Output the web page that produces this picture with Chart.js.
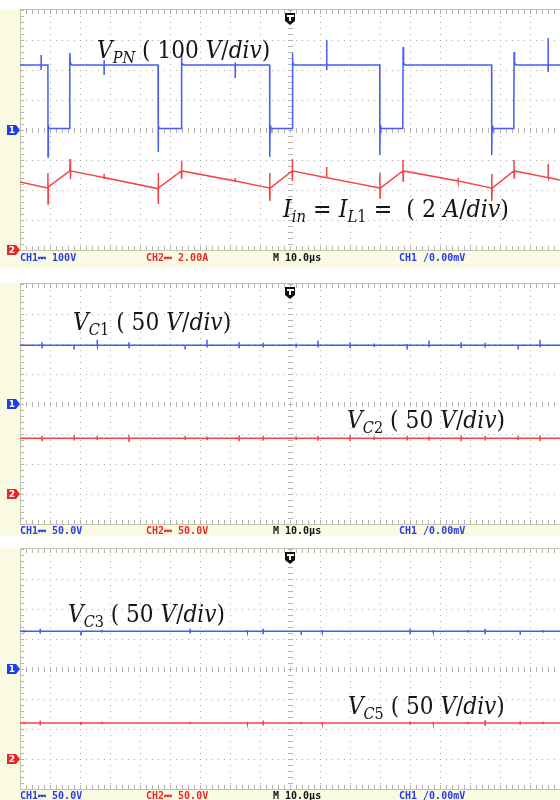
<!DOCTYPE html>
<html>
<head>
<meta charset="utf-8">
<script src="https://cdn.jsdelivr.net/npm/chart.js@4.4.1/dist/chart.umd.min.js"></script>
<style>
body { margin: 0; background: #fff; width: 560px; height: 800px; overflow: hidden; }
canvas { position: absolute; left: 0; }
</style>
</head>
<body>
<canvas id="scope1" width="560" height="268" style="top:0"></canvas>
<canvas id="scope2" width="560" height="266" style="top:270px"></canvas>
<canvas id="scope3" width="560" height="264" style="top:536px"></canvas>
<script>
// time axis: 18 divisions of 10 us
const timeTicks = [0, 10, 20, 30, 40, 50, 60, 70, 80, 90, 100, 110, 120, 130, 140, 150, 160, 170, 180]

// panel 1, CH1 = V_PN in volts, [us, V]
const vPN = [
    [0, 217], [7, 217], [7.02, 250], [7.05, 200], [7.1, 217],
    [9.3, 217], [9.35, -90], [9.45, 15], [9.7, 5],
    [16.5, 5], [16.6, 257], [16.75, 225], [17.2, 217],
    [28, 217], [28.02, 233], [28.05, 183], [28.1, 217],
    [46.0, 217], [46.05, -73], [46.15, 15], [46.4, 5],
    [53.7, 5], [53.8, 257], [53.95, 225], [54.4, 217],
    [71.7, 217], [71.72, 225], [71.75, 173], [71.8, 217],
    [83.2, 217], [83.25, -90], [83.35, 15], [83.6, 5],
    [90.7, 5], [90.8, 257], [90.95, 225], [91.4, 217],
    [102.2, 217], [102.22, 300], [102.25, 200], [102.3, 217],
    [119.9, 217], [119.95, -83], [120.05, 15], [120.3, 5],
    [127.6, 5], [127.7, 277], [127.85, 225], [128.3, 217],
    [157.2, 217], [157.25, -83], [157.35, 15], [157.6, 5],
    [164.6, 5], [164.7, 260], [164.85, 225], [165.3, 217],
    [176, 217], [176.02, 307], [176.05, 193], [176.1, 217],
    [180, 217]
]

// panel 1, CH2 = I_in in amps, [us, A]
const iIn = [
    [0, 4.53], [9.2, 4.13], [9.3, 5.13], [9.35, 3.07], [9.45, 4.2],
    [16.6, 5.27], [16.7, 6.07], [16.75, 4.73], [16.9, 5.27],
    [28, 4.83], [28.02, 5.07], [28.05, 4.73], [28.1, 4.83],
    [46.0, 4.09], [46.05, 5.13], [46.1, 3.07], [46.2, 4.13],
    [53.8, 5.27], [53.85, 5.93], [53.9, 4.73], [54.0, 5.27],
    [71.7, 4.6], [71.72, 4.8], [71.75, 4.53], [71.8, 4.6],
    [83.2, 4.13], [83.25, 5.13], [83.3, 3.27], [83.4, 4.13],
    [90.7, 5.27], [90.75, 6.07], [90.8, 4.6], [90.9, 5.27],
    [102.2, 4.82], [102.22, 5.53], [102.25, 4.82],
    [119.9, 4.13], [119.95, 5.13], [120, 3.47], [120.1, 4.13],
    [127.6, 5.27], [127.65, 6.0], [127.7, 4.6], [127.8, 5.27],
    [146, 4.6], [146.02, 4.8], [146.05, 4.55], [146.1, 4.6],
    [157.2, 4.13], [157.25, 5.07], [157.3, 3.27], [157.4, 4.13],
    [164.6, 5.27], [164.65, 6.0], [164.7, 4.8], [164.8, 5.27],
    [176, 4.83], [176.02, 5.73], [176.05, 4.8], [176.1, 4.83],
    [180, 4.67]
]

// panels 2 and 3: dc levels (V) and small spikes [us, high, low]
const vC1Level = 98
const vC1Spikes = [[7.3, 103, 94], [18, 99, 91], [25.7, 107, 97], [36.3, 103, 94], [55, 99, 91], [62.3, 107, 96],
    [73, 103, 93], [81, 102, 94], [92, 101, 94], [99.3, 106, 96], [110, 103, 93], [118, 101, 95], [129, 100, 91],
    [136.3, 106, 96], [147, 103, 93], [155, 102, 94], [166, 99, 91], [173.3, 107, 96]]
const vC2Level = 93
const vC2Spikes = [[7.3, 97, 89], [18, 98, 89], [25.7, 97, 90], [36.3, 98, 88], [55, 97, 90], [62.3, 96, 91],
    [73, 98, 88], [81, 97, 89], [92, 96, 90], [99.3, 97, 90], [110, 98, 88], [118, 96, 90], [129, 97, 89],
    [136.3, 96, 90], [147, 98, 88], [155, 97, 89], [166, 97, 90], [173.3, 98, 89]]
const vC3Level = 63
const vC3Spikes = [[1.3, 65, 62], [6.7, 67, 59], [20.3, 64, 57], [27.3, 65, 62], [56.7, 67, 59], [75.7, 65, 62],
    [81, 67, 58], [93.7, 64, 57], [100.7, 65, 62], [130, 67, 58], [137.7, 65, 62], [149.3, 65, 62],
    [155, 67, 58], [166.7, 64, 57], [174.3, 65, 62]]
const vC5Level = 60
const vC5Spikes = [[1.3, 62, 59], [6.7, 64, 56], [20.3, 62, 58], [27.3, 62, 59], [56.7, 62, 58], [75.7, 62, 59],
    [81, 64, 56], [93.7, 62, 58], [100.7, 62, 59], [130, 63, 57], [137.7, 62, 59], [149.3, 62, 59],
    [155, 65, 55], [166.7, 63, 57], [174.3, 62, 59]]

const BLUE = 'rgb(70, 92, 245)'
const RED = 'rgb(245, 70, 70)'
const CREAM = '#fbfbe4'

function toPoints(pairs) {
    return pairs.map(p => ({ x: p[0], y: p[1] }))
}

function flatWithSpikes(level, spikes) {
    let pts = [{ x: 0, y: level }]
    for (const s of spikes) {
        pts.push({ x: s[0], y: level }, { x: s[0] + 0.02, y: s[1] }, { x: s[0] + 0.05, y: s[2] }, { x: s[0] + 0.1, y: level })
    }
    pts.push({ x: 180, y: level })
    return pts
}

function labelFont(st) {
    const sub = st[0] == 's'
    const it = st.indexOf('i') >= 0
    return (it ? 'italic ' : '') + (sub ? '16px' : '24px') + ' "DejaVu Serif"'
}

const scopePlugin = {
    id: 'scope',
    beforeDatasetsDraw(chart, args, o) {
        const ctx = chart.ctx, a = chart.chartArea
        const x = chart.scales.x, y = chart.scales.y
        ctx.save()
        ctx.fillStyle = CREAM
        ctx.fillRect(0, a.top - 1, a.left, chart.height - a.top + 1)
        ctx.fillRect(0, a.bottom, chart.width, chart.height - a.bottom)
        ctx.fillStyle = '#fff'
        ctx.fillRect(a.left, a.top, a.right - a.left, a.bottom - a.top)

        // dotted grid
        ctx.fillStyle = '#a9a9a9'
        const vStep = (y.max - y.min) / 8
        for (const t of timeTicks) {
            const px = Math.round(x.getPixelForValue(t))
            for (let v = y.min; v <= y.max; v += vStep / 5) {
                ctx.fillRect(px, Math.round(y.getPixelForValue(v)), 1, 1)
            }
        }
        for (let v = y.min; v <= y.max; v += vStep) {
            const py = Math.round(y.getPixelForValue(v))
            for (let t = 0; t <= 180; t += 2) {
                ctx.fillRect(Math.round(x.getPixelForValue(t)), py, 1, 1)
            }
        }
        // minor ticks on the centre lines and borders
        ctx.fillStyle = '#b4b4b4'
        const cx = Math.round(x.getPixelForValue(90)), cy = Math.round(y.getPixelForValue(0))
        for (let t = 0; t <= 180; t += 2) {
            const px = Math.round(x.getPixelForValue(t))
            ctx.fillRect(px, cy - 2, 1, 5)
            ctx.fillRect(px, a.top, 1, 4)
            ctx.fillRect(px, a.bottom - 4, 1, 4)
        }
        for (let v = y.min; v <= y.max; v += vStep / 5) {
            const py = Math.round(y.getPixelForValue(v))
            ctx.fillRect(cx - 2, py, 5, 1)
            ctx.fillRect(a.left, py, 4, 1)
        }
        ctx.strokeStyle = '#c2c2a6'
        ctx.lineWidth = 1
        ctx.beginPath()
        ctx.moveTo(a.left + 0.5, a.bottom + 0.5)
        ctx.lineTo(a.left + 0.5, a.top - 0.5)
        ctx.lineTo(a.right, a.top - 0.5)
        ctx.moveTo(a.left, a.bottom + 0.5)
        ctx.lineTo(a.right, a.bottom + 0.5)
        ctx.stroke()
        ctx.restore()
    },
    afterDatasetsDraw(chart, args, o) {
        const ctx = chart.ctx, a = chart.chartArea
        const x = chart.scales.x, y = chart.scales.y, y2 = chart.scales.y2
        ctx.save()

        // channel ground markers
        const marks = [[y.getPixelForValue(0), 'rgb(30, 60, 240)', '1'], [y2.getPixelForValue(0), '#e8262a', '2']]
        for (const m of marks) {
            const my = Math.round(m[0])
            ctx.fillStyle = m[1]
            ctx.beginPath()
            ctx.moveTo(7, my - 5)
            ctx.lineTo(16, my - 5)
            ctx.lineTo(20, my)
            ctx.lineTo(16, my + 5)
            ctx.lineTo(7, my + 5)
            ctx.closePath()
            ctx.fill()
            ctx.fillStyle = '#fff'
            ctx.font = 'bold 9px "DejaVu Sans"'
            ctx.textAlign = 'center'
            ctx.textBaseline = 'middle'
            ctx.fillText(m[2], 12, my + 0.5)
        }

        // trigger marker
        const tx = Math.round(x.getPixelForValue(90))
        ctx.fillStyle = '#111'
        ctx.beginPath()
        ctx.moveTo(tx - 5, a.top + 3)
        ctx.lineTo(tx + 5, a.top + 3)
        ctx.lineTo(tx + 5, a.top + 11)
        ctx.lineTo(tx, a.top + 15)
        ctx.lineTo(tx - 5, a.top + 11)
        ctx.closePath()
        ctx.fill()
        ctx.fillStyle = '#fff'
        ctx.fillRect(tx - 3, a.top + 5, 7, 2)
        ctx.fillRect(tx - 1, a.top + 5, 2, 6)

        // trace labels
        ctx.fillStyle = '#151515'
        ctx.textAlign = 'left'
        ctx.textBaseline = 'alphabetic'
        for (const lb of o.labels) {
            const px = x.getPixelForValue(lb.t)
            const py = y.getPixelForValue(lb.v)
            const pw = x.getPixelForValue(lb.t + lb.w) - px
            let w = 0
            for (const p of lb.parts) {
                ctx.font = labelFont(p[1])
                w += ctx.measureText(p[0]).width
            }
            ctx.save()
            ctx.translate(px, py)
            ctx.scale(pw / w, 1)
            let cx = 0
            for (const p of lb.parts) {
                ctx.font = labelFont(p[1])
                ctx.fillText(p[0], cx, p[1][0] == 's' ? 5 : 0)
                cx += ctx.measureText(p[0]).width
            }
            ctx.restore()
        }

        // status bar
        ctx.font = 'bold 10px "DejaVu Sans Mono"'
        ctx.textBaseline = 'middle'
        const cols = ['rgb(40, 60, 235)', 'rgb(235, 40, 40)', '#111', 'rgb(40, 60, 235)']
        const xs = [20, 146, 273, 399]
        o.status.forEach((s, i) => {
            ctx.fillStyle = cols[i]
            ctx.fillText(s, xs[i], a.bottom + o.barY)
        })
        ctx.restore()
    }
}

function makeScope(id, top, bottom, ch1, ch2, ch1Range, ch2Range, labels, status, barY) {
    return new Chart(document.getElementById(id), {
        type: 'scatter',
        data: {
            datasets: [
                { data: ch2, yAxisID: 'y2', borderColor: RED, borderWidth: 1.5, showLine: true, pointRadius: 0, tension: 0 },
                { data: ch1, yAxisID: 'y', borderColor: BLUE, borderWidth: 1.5, showLine: true, pointRadius: 0, tension: 0 }
            ]
        },
        options: {
            responsive: false,
            animation: false,
            devicePixelRatio: 1,
            layout: { padding: { top: top, bottom: bottom, left: 20, right: 0 } },
            scales: {
                x: { type: 'linear', min: 0, max: 180, display: false },
                y: { min: ch1Range[0], max: ch1Range[1], display: false },
                y2: { min: ch2Range[0], max: ch2Range[1], display: false }
            },
            plugins: {
                legend: { display: false },
                tooltip: { enabled: false },
                scope: { labels: labels, status: status, barY: barY }
            }
        },
        plugins: [scopePlugin]
    })
}

makeScope('scope1', 10, 18, toPoints(vPN), toPoints(iIn), [-400, 400], [0, 16], [
    { t: 25.7, v: 240, w: 57.7, parts: [['V', 'i'], ['PN', 'si'], [' ( 100 ', 'r'], ['V', 'i'], ['/', 'r'], ['div', 'i'], [')', 'r']] },
    { t: 87.7, v: -290, w: 75.3, parts: [['I', 'i'], ['in', 'si'], [' = ', 'r'], ['I', 'i'], ['L', 'si'], ['1', 'sr'], [' =  ( 2 ', 'r'], ['A', 'i'], ['/', 'r'], ['div', 'i'], [')', 'r']] }
], ['CH1⎓ 100V', 'CH2⎓ 2.00A', 'M 10.0µs', 'CH1 /0.00mV'], 8)

makeScope('scope2', 14, 12, flatWithSpikes(vC1Level, vC1Spikes), flatWithSpikes(vC2Level, vC2Spikes), [-200, 200], [-50, 350], [
    { t: 17.7, v: 123, w: 52.7, parts: [['V', 'i'], ['C', 'si'], ['1', 'sr'], [' ( 50 ', 'r'], ['V', 'i'], ['/', 'r'], ['div', 'i'], [')', 'r']] },
    { t: 109, v: -40, w: 52.7, parts: [['V', 'i'], ['C', 'si'], ['2', 'sr'], [' ( 50 ', 'r'], ['V', 'i'], ['/', 'r'], ['div', 'i'], [')', 'r']] }
], ['CH1⎓ 50.0V', 'CH2⎓ 50.0V', 'M 10.0µs', 'CH1 /0.00mV'], 7)

makeScope('scope3', 13, 11, flatWithSpikes(vC3Level, vC3Spikes), flatWithSpikes(vC5Level, vC5Spikes), [-200, 200], [-50, 350], [
    { t: 16, v: 78, w: 52.3, parts: [['V', 'i'], ['C', 'si'], ['3', 'sr'], [' ( 50 ', 'r'], ['V', 'i'], ['/', 'r'], ['div', 'i'], [')', 'r']] },
    { t: 109.3, v: -75, w: 52.3, parts: [['V', 'i'], ['C', 'si'], ['5', 'sr'], [' ( 50 ', 'r'], ['V', 'i'], ['/', 'r'], ['div', 'i'], [')', 'r']] }
], ['CH1⎓ 50.0V', 'CH2⎓ 50.0V', 'M 10.0µs', 'CH1 /0.00mV'], 7)
</script>
</body>
</html>
